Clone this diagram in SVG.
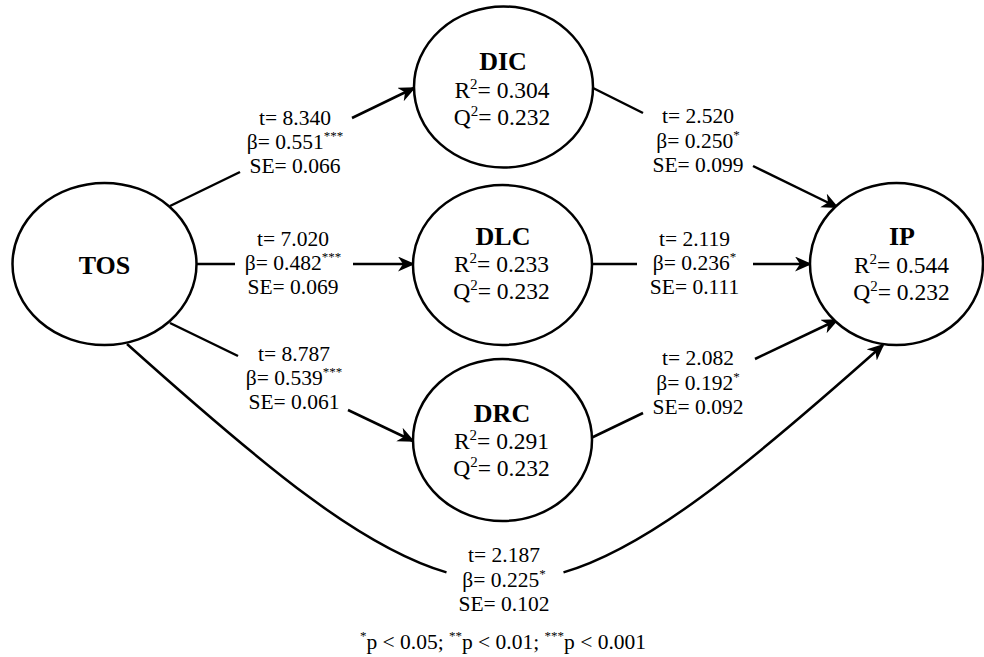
<svg xmlns="http://www.w3.org/2000/svg" width="984" height="657" viewBox="0 0 984 657">
<defs>
<style>
.n{fill:#fff;stroke:#000;stroke-width:2.5}
.c{fill:none;stroke:#000;stroke-width:2.5}
.t{font-family:"Liberation Serif","Times New Roman",serif;fill:#000;text-anchor:middle}
.h{font-size:26px;font-weight:bold}
.v{font-size:23.5px}
.e{font-size:21.5px}
.s{font-size:13px}
.s2{font-size:15px}
</style>
<marker id="a" markerUnits="userSpaceOnUse" markerWidth="18" markerHeight="16" refX="15" refY="7.5" orient="auto">
<path d="M0,0 L17,7.5 L0,15 L5,7.5 Z" fill="#000"/>
</marker>
</defs>
<rect width="984" height="657" fill="#fff"/>
<g id="connectors">
<line class="c" x1="170" y1="206" x2="240" y2="172"/>
<line class="c" x1="352" y1="118" x2="414" y2="88" marker-end="url(#a)"/>
<line class="c" x1="197" y1="264" x2="235" y2="264"/>
<line class="c" x1="353" y1="264" x2="413" y2="264" marker-end="url(#a)"/>
<line class="c" x1="170" y1="323" x2="238" y2="356"/>
<line class="c" x1="348" y1="410" x2="413" y2="441" marker-end="url(#a)"/>
<line class="c" x1="593" y1="88" x2="643" y2="113"/>
<line class="c" x1="753" y1="166" x2="837" y2="207" marker-end="url(#a)"/>
<line class="c" x1="592" y1="264" x2="637" y2="264"/>
<line class="c" x1="753" y1="264" x2="810" y2="264" marker-end="url(#a)"/>
<line class="c" x1="591" y1="438" x2="643" y2="413"/>
<line class="c" x1="755" y1="359" x2="837" y2="320" marker-end="url(#a)"/>
<path class="c" d="M127,344 C269.6,471.7 362.8,547.8 446.5,572.4"/>
<path class="c" d="M563.5,572.4 C647.2,547.8 740.4,471.7 883,345" marker-end="url(#a)"/>
</g>
<g id="labels">
<text class="t e" x="295" y="125">t= 8.340</text>
<text class="t e" x="295" y="149">β= 0.551<tspan class="s" dy="-9">***</tspan></text>
<text class="t e" x="295" y="173">SE= 0.066</text>
<text class="t e" x="293" y="246">t= 7.020</text>
<text class="t e" x="293" y="270">β= 0.482<tspan class="s" dy="-9">***</tspan></text>
<text class="t e" x="293" y="294">SE= 0.069</text>
<text class="t e" x="294" y="361">t= 8.787</text>
<text class="t e" x="294" y="385">β= 0.539<tspan class="s" dy="-9">***</tspan></text>
<text class="t e" x="294" y="409">SE= 0.061</text>
<text class="t e" x="698" y="123">t= 2.520</text>
<text class="t e" x="698" y="147.5">β= 0.250<tspan class="s" dy="-9">*</tspan></text>
<text class="t e" x="698" y="172">SE= 0.099</text>
<text class="t e" x="694.5" y="246">t= 2.119</text>
<text class="t e" x="694.5" y="270">β= 0.236<tspan class="s" dy="-9">*</tspan></text>
<text class="t e" x="694.5" y="294">SE= 0.111</text>
<text class="t e" x="698" y="365">t= 2.082</text>
<text class="t e" x="698" y="389.5">β= 0.192<tspan class="s" dy="-9">*</tspan></text>
<text class="t e" x="698" y="413.5">SE= 0.092</text>
<text class="t e" x="504" y="562">t= 2.187</text>
<text class="t e" x="504" y="586.5">β= 0.225<tspan class="s" dy="-9">*</tspan></text>
<text class="t e" x="504" y="611">SE= 0.102</text>
<text class="t e" x="503" y="649"><tspan class="s" dy="-9">*</tspan><tspan dy="9">p &lt; 0.05; </tspan><tspan class="s" dy="-9">**</tspan><tspan dy="9">p &lt; 0.01; </tspan><tspan class="s" dy="-9">***</tspan><tspan dy="9">p &lt; 0.001</tspan></text>
</g>
<g id="TOS">
<ellipse class="n" cx="104.5" cy="264" rx="92" ry="81"/>
<text class="t h" x="104.5" y="274">TOS</text>
</g>
<g id="DIC">
<ellipse class="n" cx="503.5" cy="87" rx="89.5" ry="80.5"/>
<text class="t h" x="503" y="70">DIC</text>
<text class="t v" x="502" y="98">R<tspan class="s2" dy="-9">2</tspan><tspan dy="9">= 0.304</tspan></text>
<text class="t v" x="502" y="125">Q<tspan class="s2" dy="-9">2</tspan><tspan dy="9">= 0.232</tspan></text>
</g>
<g id="DLC">
<ellipse class="n" cx="502.5" cy="265" rx="89.5" ry="80"/>
<text class="t h" x="503" y="245">DLC</text>
<text class="t v" x="501.5" y="272">R<tspan class="s2" dy="-9">2</tspan><tspan dy="9">= 0.233</tspan></text>
<text class="t v" x="501.5" y="299">Q<tspan class="s2" dy="-9">2</tspan><tspan dy="9">= 0.232</tspan></text>
</g>
<g id="DRC">
<ellipse class="n" cx="502.5" cy="440" rx="89.5" ry="81"/>
<text class="t h" x="502" y="422">DRC</text>
<text class="t v" x="501.5" y="449">R<tspan class="s2" dy="-9">2</tspan><tspan dy="9">= 0.291</tspan></text>
<text class="t v" x="501.5" y="476">Q<tspan class="s2" dy="-9">2</tspan><tspan dy="9">= 0.232</tspan></text>
</g>
<g id="IP">
<ellipse class="n" cx="896.5" cy="264" rx="86.5" ry="81"/>
<text class="t h" x="902" y="245">IP</text>
<text class="t v" x="901.5" y="273">R<tspan class="s2" dy="-9">2</tspan><tspan dy="9">= 0.544</tspan></text>
<text class="t v" x="901.5" y="300">Q<tspan class="s2" dy="-9">2</tspan><tspan dy="9">= 0.232</tspan></text>
</g>
</svg>
